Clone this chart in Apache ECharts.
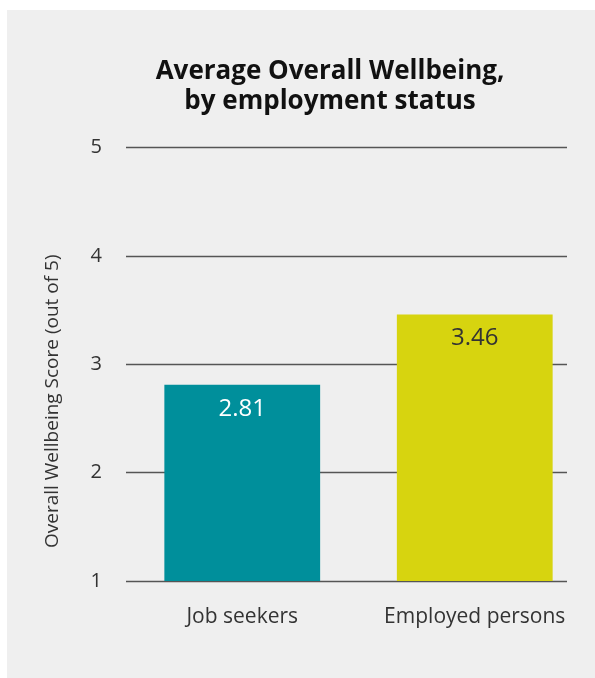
<!DOCTYPE html>
<html><head><meta charset="utf-8">
<script src="https://cdn.jsdelivr.net/npm/echarts@6/dist/echarts.min.js"></script>
<style>html,body{margin:0;padding:0;background:#fff;}#c{width:595px;height:678px;}</style>
</head><body><div id="c"></div>
<script>
const categories = ['Job seekers', 'Employed persons'];
const scores = [2.81, 3.46];
const barColors = ['#008F9B', '#D7D40F'];
const labelColors = ['#ffffff', '#333333'];
const yTicks = [1, 2, 3, 4, 5];

const FONT = 'Open Sans';
const chart = echarts.init(document.getElementById('c'), null, {renderer: 'canvas'});
chart.setOption({
  backgroundColor: 'transparent',
  animation: false,
  graphic: [{type: 'rect', left: 7, top: 10, shape: {width: 588, height: 668}, style: {fill: '#EFEFEF'}, z: -10}],
  title: {
    text: 'Average Overall Wellbeing,\nby employment status',
    left: 325, top: 52, textAlign: 'center',
    textStyle: {fontFamily: FONT, fontWeight: 'bold', fontSize: 26, lineHeight: 30, color: '#111'}
  },
  grid: [
    {left: 126, right: 28, top: 147.5, bottom: 97},
    {left: 126, right: 4, top: 147.5, bottom: 97}
  ],
  xAxis: [
    {gridIndex: 0, type: 'category', data: categories, show: false},
    {gridIndex: 1, type: 'category', data: categories,
     axisLine: {show: false}, axisTick: {show: false},
     axisLabel: {interval: 0, hideOverlap: false, fontFamily: FONT, fontSize: 21, color: '#333', margin: 26}}
  ],
  yAxis: [
    {gridIndex: 0, type: 'value', min: yTicks[0], max: yTicks[yTicks.length - 1], interval: 1,
     axisLine: {show: false}, axisTick: {show: false},
     axisLabel: {fontFamily: FONT, fontSize: 20, color: '#333', margin: 24},
     splitLine: {lineStyle: {color: '#555', width: 1.3}},
     name: 'Overall Wellbeing Score (out of 5)', nameLocation: 'middle', nameGap: 64, nameRotate: 90,
     nameTextStyle: {fontFamily: FONT, fontSize: 19, color: '#333', padding: [0, 74, 0, 0]}},
    {gridIndex: 1, type: 'value', min: yTicks[0], max: yTicks[yTicks.length - 1], interval: 1, show: false,
     splitLine: {show: false}}
  ],
  series: [{
    type: 'bar', xAxisIndex: 1, yAxisIndex: 1,
    barCategoryGap: '33%',
    data: scores.map((v, i) => ({value: v, itemStyle: {color: barColors[i]},
      label: {color: labelColors[i]}})),
    label: {show: true, position: 'insideTop', distance: 12, fontFamily: FONT, fontSize: 24,
      formatter: p => p.value.toFixed(2)}
  }]
});
</script></body></html>
